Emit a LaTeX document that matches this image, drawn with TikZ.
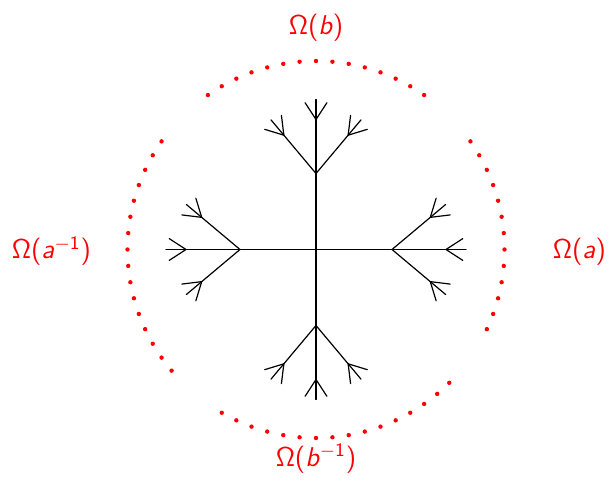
\RequirePackage{fix-cm}
\documentclass[tikz,border=0pt]{standalone}
\usetikzlibrary{calc}
\definecolor{BoundaryRed}{RGB}{255,0,0}
\definecolor{TreeInk}{gray}{0.0}
\DeclareMathAlphabet{\mathsfit}{OT1}{cmss}{m}{sl}
\newcommand{\Bdry}[1]{\ensuremath{\mathsf{\Omega}\textsf{(}#1\textsf{)}}}
\tikzset{
    cayley/diagram/.style={
        x=0.5pt, y=0.5pt,
        line cap=round,
        line join=round
    },
    cayley/edge/.style={draw=TreeInk, line width=0.6pt},
    cayley/dot/.style={fill=BoundaryRed, draw=none},
    cayley/label/.style={
        text=BoundaryRed, inner sep=0pt, anchor=base,
        font=\fontsize{13.6}{16}\selectfont
    }
}

\begin{document}
\begin{tikzpicture}[cayley/diagram]
    \useasboundingbox (-316,-242.5) rectangle (294,249.5);
    \coordinate (e) at (0,0);
    % the four arms of the tree, three children at each vertex
    \foreach \d in {0,90,180,270} {
        \path (e) ++(\d:76) coordinate (v\d);
        \draw[cayley/edge] (e) -- (v\d);
        \foreach \t/\r in {0/54,40/50,-40/50} {
            \pgfmathsetmacro\a{\d+\t}
            \path (v\d) ++(\a:\r) coordinate (w);
            \draw[cayley/edge] (v\d) -- (w);
            \foreach \s in {0,33,-33} {
                \path (w) ++({\a+\s}:20) coordinate (leaf);
                \draw[cayley/edge] (w) -- (leaf);
            }
        }
    }
    % boundary pieces
    \foreach \ang in {55,60,...,125}   \fill[cayley/dot] (\ang:188.5) circle[radius=2.2];
    \foreach \ang in {145,150,...,220} \fill[cayley/dot] (\ang:188.5) circle[radius=2.2];
    \foreach \ang in {240,245,...,315} \fill[cayley/dot] (\ang:188.5) circle[radius=2.2];
    \foreach \ang in {-25,-20,...,35}  \fill[cayley/dot] (\ang:188.5) circle[radius=2.2];
    \node[cayley/label] (Ob)  at (0,215)       {\Bdry{\mathsfit{b}}};
    \node[cayley/label] (Oa)  at (263.5,-9.5)  {\Bdry{\mathsfit{a}}};
    \node[cayley/label] (Oai) at (-264.5,-9.5) {\Bdry{\mathsfit{a}^{-\mathsf{1}}}};
    \node[cayley/label] (Obi) at (0,-216.5)    {\Bdry{\mathsfit{b}^{-\mathsf{1}}}};
\end{tikzpicture}
\end{document}
